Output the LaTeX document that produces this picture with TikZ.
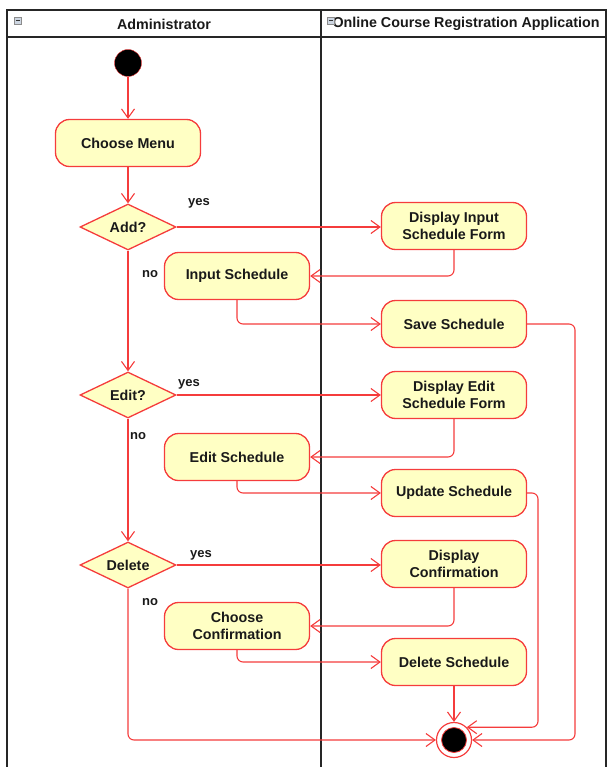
\documentclass[tikz,border=0pt]{standalone}
\usepackage{fontspec}
\setmainfont{Liberation Sans}
\usetikzlibrary{shapes.geometric,arrows.meta,positioning}
\definecolor{umlred}{RGB}{245,60,60}
\definecolor{umlfill}{RGB}{255,255,196}
\definecolor{umltext}{RGB}{25,25,25}
\definecolor{iconfill}{RGB}{205,214,226}

\begin{document}
\begin{tikzpicture}[
        x=1pt, y=-1pt,
        every node/.style={font=\fontsize{14.3}{17.5}\selectfont\bfseries, text=umltext},
        action/.style={draw=umlred, fill=umlfill, line width=1.3pt, rounded corners=14pt,
            minimum width=145pt, minimum height=47pt, align=center, inner sep=2pt},
        decision/.style={diamond, draw=umlred, fill=umlfill, line width=1.3pt, aspect=2.1,
            minimum width=96pt, minimum height=46pt, inner sep=0pt},
        flow/.style={draw=umlred, line width=1.1pt, rounded corners=6pt,
            -{Straight Barb[length=9pt, width=13pt, line width=1.1pt]}},
        lane/.style={line width=1.2pt, draw=black!85},
        tag/.style={font=\fontsize{13}{14}\selectfont\bfseries}
    ]
        \useasboundingbox (0,0) rectangle (607,767);

        % swimlanes
        \draw[lane] (7,767) -- (7,10) -- (606,10) -- (606,767);
        \draw[lane] (7,37) -- (606,37);
        \draw[lane] (321,10) -- (321,767);
        \node at (164, 24) {Administrator};
        \node at (466, 24) {Online Course Registration Application};
        \foreach \ix in {14, 327} {
            \draw[draw=black!45, fill=iconfill] (\ix,17) rectangle ++(7,7);
            \draw[black!80, line width=1pt] (\ix+1.5,20.5) -- ++(4,0);
        }

        % start and end
        \node[circle, draw=umlred, fill=black, minimum size=27pt, inner sep=0pt] (start) at (128, 63) {};
        \node[circle, draw=umlred, line width=1.2pt, minimum size=35pt, inner sep=0pt] (end) at (454, 740) {};
        \fill[black, draw=umlred, line width=0.8pt] (end.center) circle (12.5pt);

        % Administrator lane
        \node[action] (menu) at (128, 143) {Choose Menu};
        \node[decision] (add) at (128, 227) {Add?};
        \node[action] (input) at (237, 276) {Input Schedule};
        \node[decision] (edit) at (128, 395) {Edit?};
        \node[action] (editsched) at (237, 457) {Edit Schedule};
        \node[decision] (delete) at (128, 565) {Delete};
        \node[action] (choose) at (237, 626) {Choose\\Confirmation};

        % Application lane
        \node[action] (dispinput) at (454, 226) {Display Input\\Schedule Form};
        \node[action] (save) at (454, 324) {Save Schedule};
        \node[action] (dispedit) at (454, 395) {Display Edit\\Schedule Form};
        \node[action] (update) at (454, 493) {Update Schedule};
        \node[action] (dispconf) at (454, 564) {Display\\Confirmation};
        \node[action] (delsched) at (454, 662) {Delete Schedule};

        % guard labels
        \node[tag] at (199, 203) {yes};
        \node[tag] at (189, 384) {yes};
        \node[tag] at (201, 555) {yes};
        \node[tag] at (150, 274) {no};
        \node[tag] at (138, 436) {no};
        \node[tag] at (150, 602) {no};

        \coordinate (saveturn) at (575, 324);
        \coordinate (updateturn) at (538, 493);

        % flows
        \draw[flow] (start) -- (menu);
        \draw[flow] (menu) -- (add);
        \draw[flow] (add.east) -- (dispinput.west |- add.east);
        \draw[flow] (dispinput.south) |- (input.east);
        \draw[flow] (input.south) |- (save.west);
        \draw[flow] (add.south) -- (edit.north);
        \draw[flow] (edit.east) -- (dispedit.west |- edit.east);
        \draw[flow] (dispedit.south) |- (editsched.east);
        \draw[flow] (editsched.south) |- (update.west);
        \draw[flow] (edit.south) -- (delete.north);
        \draw[flow] (delete.east) -- (dispconf.west |- delete.east);
        \draw[flow] (dispconf.south) |- (choose.east);
        \draw[flow] (choose.south) |- (delsched.west);
        \draw[flow] (delsched) -- (end);
        \draw[flow] (delete.south) |- (end.west);
        \draw[flow] (save.east) -- (saveturn) |- (end.east);
        \draw[flow] (update.east) -- (updateturn) |- (end.north east);
    \end{tikzpicture}
\end{document}
